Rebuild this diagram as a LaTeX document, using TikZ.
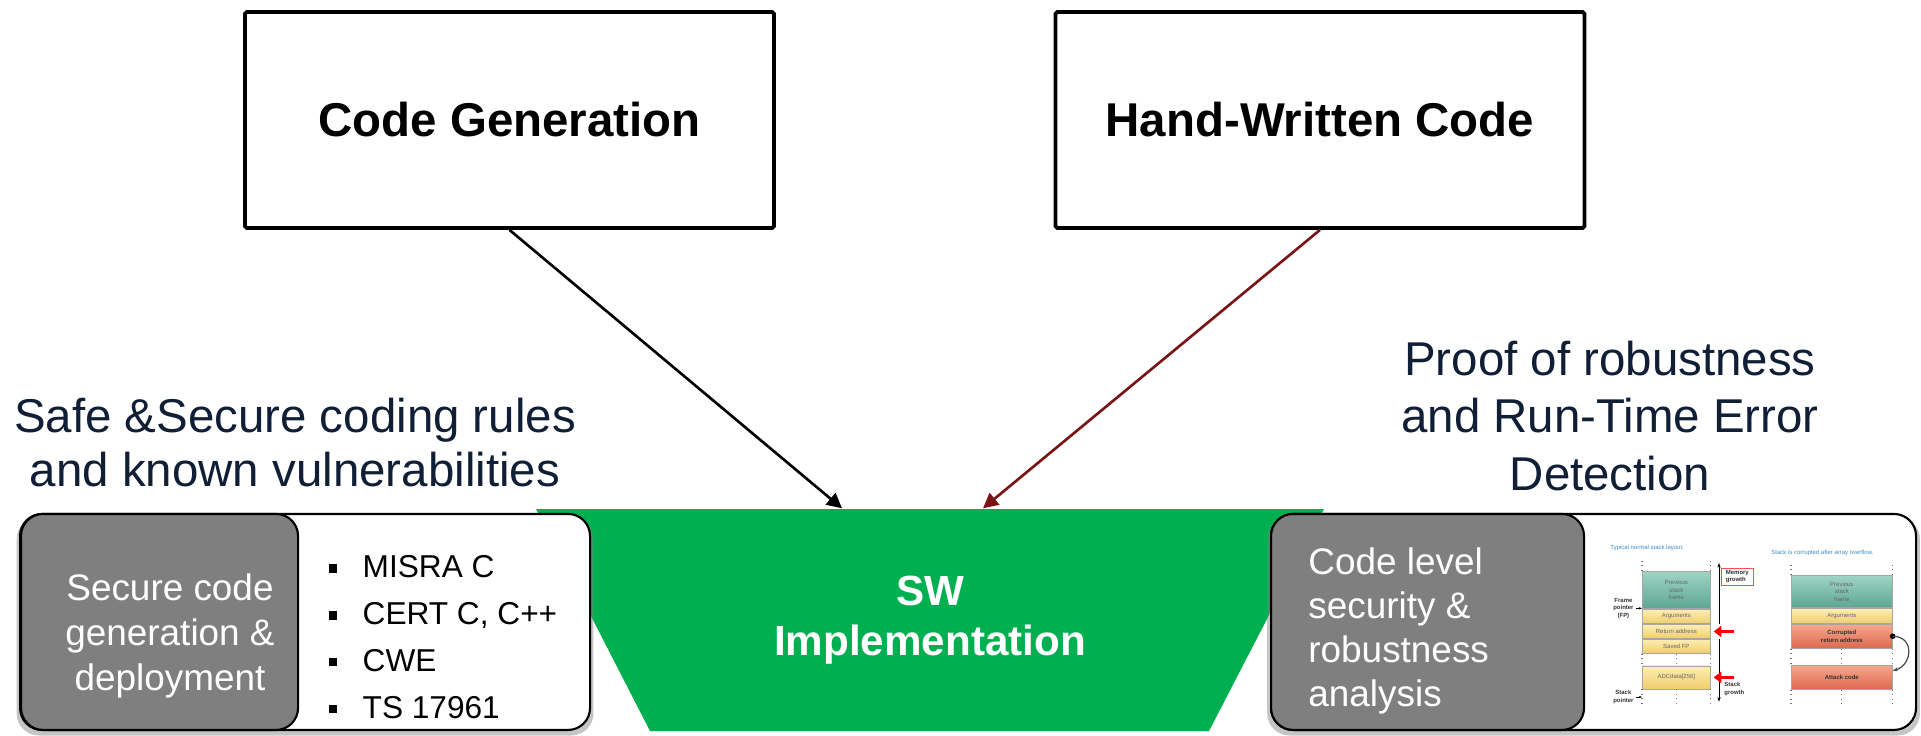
\documentclass[tikz,border=0pt]{standalone}
\usepackage{fontspec}
\setmainfont{Liberation Sans}
\usetikzlibrary{arrows.meta,positioning,shadows}

\definecolor{swgreen}{RGB}{0,176,80}
\definecolor{boxgray}{RGB}{127,127,127}
\definecolor{headnavy}{RGB}{16,30,54}
\definecolor{arrowred}{RGB}{120,20,20}
\definecolor{stackblue}{RGB}{60,140,200}
\definecolor{tealtop}{RGB}{160,212,196}
\definecolor{tealbot}{RGB}{92,166,146}
\definecolor{yellowtop}{RGB}{253,238,180}
\definecolor{yellowbot}{RGB}{240,205,110}
\definecolor{redtop}{RGB}{246,168,140}
\definecolor{redbot}{RGB}{222,104,78}

\newcommand{\sqbullet}{\makebox[0.34cm][l]{\rule[1.4pt]{2.4pt}{2.4pt}}}

\begin{document}
\begin{tikzpicture}[
  titlebox/.style={draw,line width=1.1pt,rounded corners=0.5pt,minimum width=5.29cm,minimum height=2.16cm,font=\fontsize{13.5}{16}\selectfont\bfseries},
  heading/.style={align=center,text=headnavy,font=\fontsize{13.5}{15.2}\selectfont},
  panel/.style={draw,line width=0.6pt,fill=white,rounded corners=0.22cm,minimum height=2.16cm,anchor=south west,
    drop shadow={shadow xshift=0pt,shadow yshift=-1.2pt,shadow scale=1.012,opacity=0.45}},
  tag/.style={draw,line width=0.6pt,fill=boxgray,rounded corners=0.22cm,minimum height=2.16cm,anchor=south west},
  tagtext/.style={text=white,font=\fontsize{10.5}{12.9}\selectfont},
  feed/.style={line width=0.75pt,-{Triangle[length=0.15cm,width=0.15cm]}},
  minilabel/.style={font=\fontsize{1.7}{2.1}\selectfont,inner sep=0.5pt},
  boldlabel/.style={font=\fontsize{1.7}{2.1}\selectfont\bfseries,inner sep=0.5pt,text=black!80},
  slot/.style={draw=black!35,line width=0.2pt,minimum width=0.68cm,inner sep=0pt,minilabel,align=center,text=black!60},
  stackframe/.style={slot,top color=tealtop,bottom color=tealbot},
  stackword/.style={slot,top color=yellowtop,bottom color=yellowbot},
  stackhit/.style={slot,top color=redtop,bottom color=redbot,boldlabel},
  guide/.style={densely dotted,line width=0.3pt,black!55},
]
\useasboundingbox (0,0) rectangle (19.21,7.35);
\path[fill=white] (0,0) rectangle (19.21,7.35);

\node[titlebox] (cg) at (5.095,6.15) {Code Generation};
\node[titlebox] (hw) at (13.20,6.15) {Hand-Written Code};

\path[fill=swgreen] (5.36,2.26) -- (13.24,2.26) -- (12.09,0.04) -- (6.50,0.04) -- cycle;
\node[minimum width=7.88cm,minimum height=2.22cm,inner sep=0pt,text=white,align=center,
  font=\fontsize{12}{14.2}\selectfont\bfseries] (sw) at (9.30,1.15) {SW\\Implementation};

\path[draw,feed] (cg.south) -- ([xshift=-0.88cm]sw.north);
\path[draw,feed,arrowred] (hw.south) -- ([xshift=0.53cm]sw.north);

\node[heading] (rulesnote) at (2.95,2.925) {Safe \&Secure coding rules\\and known vulnerabilities};
\node[heading,font=\fontsize{13.5}{16.3}\selectfont] (proofnote) at (16.10,3.19) {Proof of robustness\\and Run-Time Error\\Detection};

\node[panel,minimum width=5.70cm] (rules) at (0.19,0.04) {};
\node[tag,minimum width=2.77cm] (gen) at (0.20,0.04) {};
\node[tagtext,align=center] (gentext) at (1.70,0.99) {Secure code\\generation \&\\deployment};
\node[anchor=west,align=left,font=\fontsize{9}{13.3}\selectfont,inner sep=0pt] (stdlist) at (3.28,0.98)
  {\sqbullet MISRA C\\\sqbullet CERT C, C++\\\sqbullet CWE\\\sqbullet TS 17961};

\node[panel,minimum width=6.45cm] (proof) at (12.70,0.04) {};
\node[tag,minimum width=3.13cm] (ana) at (12.70,0.04) {};
\node[tagtext,anchor=west,align=left,font=\fontsize{10.5}{12.5}\selectfont] (anatext) at (12.96,1.04) {Code level\\security \&\\robustness\\analysis};

\node[minilabel,text=stackblue,anchor=west] (normtitle) at (16.08,1.87) {Typical normal stack layout.};
\node[stackframe,minimum height=0.373cm,anchor=north west] (prev) at (16.42,1.64) {Previous\\stack\\frame};
\node[stackword,minimum height=0.144cm,below=0pt of prev] (args) {Arguments};
\node[stackword,minimum height=0.14cm,below=0pt of args] (ret) {Return address};
\node[stackword,minimum height=0.14cm,below=0pt of ret] (savedfp) {Saved FP};
\node[stackword,minimum height=0.23cm,below=0.12cm of savedfp] (adc) {ADCdata[256]};
\path[draw,guide] (prev.north west) -- ++(0,0.13);
\path[draw,guide] (prev.north east) -- ++(0,0.13);
\foreach \a in {south west,south,south east} {
  \path[draw,guide] (savedfp.\a) -- ++(0,-0.12);
  \path[draw,guide] (adc.\a) -- ++(0,-0.16);
}

\node[boldlabel,align=center,anchor=east] (fp) at (16.36,1.267) {Frame\\pointer\\(FP)};
\path[draw,line width=0.2pt,-{Stealth[length=0.9pt]}] (fp.east) -- (fp.east -| args.west);
\node[boldlabel,align=center,anchor=east] (sp) at (16.36,0.38) {Stack\\pointer};
\path[draw,line width=0.2pt,-{Stealth[length=0.9pt]}] (sp.east) -- (sp.east -| adc.west);

\coordinate (memtop) at (17.19,1.72);
\coordinate (stackbot) at (17.19,0.333);
\path[draw,line width=0.25pt,-{Stealth[length=1.3pt]}] (ret.north -| memtop) -- (memtop);
\path[draw,line width=0.25pt,-{Stealth[length=1.3pt]}] (ret.south -| memtop) -- (stackbot);
\node[boldlabel,draw=red!70,line width=0.2pt,align=left,anchor=north west,minimum width=0.32cm,minimum height=0.157cm] (mem) at (17.21,1.667) {Memory\\growth};
\node[boldlabel,align=left,anchor=west] (grow) at (17.22,0.46) {Stack\\growth};
\path[draw=red,line width=1pt,-{Triangle[length=2.2pt,width=3.2pt]}] ([xshift=0.23cm]ret.east) -- ([xshift=0.03cm]ret.east);
\path[draw=red,line width=1pt,-{Triangle[length=2.2pt,width=3.2pt]}] ([xshift=0.23cm]adc.east) -- ([xshift=0.03cm]adc.east);

\node[minilabel,text=stackblue,anchor=west] (hittitle) at (17.69,1.823) {Stack is corrupted after array overflow.};
\node[stackframe,minimum width=1.01cm,minimum height=0.323cm,anchor=north west] (prevb) at (17.91,1.60) {Previous\\stack\\frame};
\node[stackword,minimum width=1.01cm,minimum height=0.15cm,below=0pt of prevb] (argsb) {Arguments};
\node[stackhit,minimum width=1.01cm,minimum height=0.244cm,below=0pt of argsb] (hit) {Corrupted\\return address};
\node[stackhit,minimum width=1.01cm,minimum height=0.24cm,below=0.16cm of hit] (attack) {Attack code};
\path[draw,guide] (prevb.north west) -- ++(0,0.13);
\path[draw,guide] (prevb.north east) -- ++(0,0.13);
\foreach \a in {south west,south,south east} {
  \path[draw,guide] (hit.\a) -- ++(0,-0.16);
  \path[draw,guide] (attack.\a) -- ++(0,-0.16);
}
\path[fill=black] (hit.east) circle (0.8pt);
\path[draw,line width=0.35pt,black!70,-{Stealth[length=1.5pt]}] (hit.east) .. controls +(0.22,0) and +(0.2,0.06) .. ([yshift=-0.06cm]attack.north east);
\end{tikzpicture}
\end{document}
